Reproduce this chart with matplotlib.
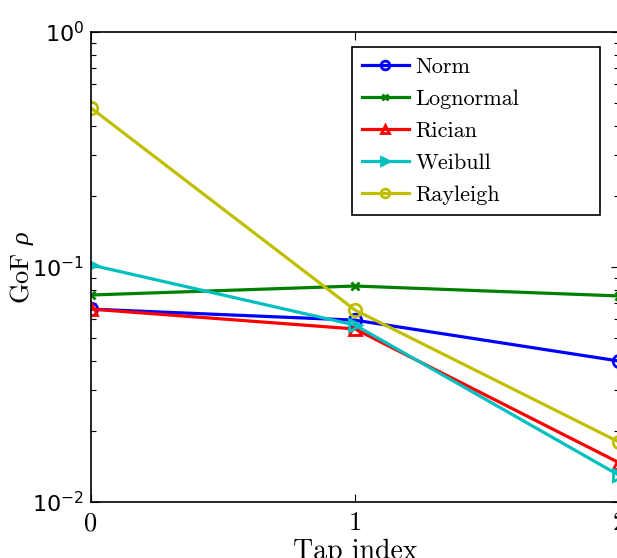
import matplotlib
matplotlib.use("Agg")
import matplotlib.pyplot as plt
from matplotlib.ticker import FixedLocator, LogLocator, NullFormatter

plt.rcParams['mathtext.fontset'] = 'custom'
plt.rcParams['mathtext.rm'] = 'Liberation Sans'
plt.rcParams['mathtext.it'] = 'Liberation Serif:italic'
plt.rcParams['mathtext.bf'] = 'Liberation Sans:bold'

# data
taps = [0, 1, 2]
norm = [0.0662, 0.0594, 0.0398]
lognormal = [0.0760, 0.0830, 0.0753]
rician = [0.0662, 0.0545, 0.0147]
weibull = [0.1020, 0.0566, 0.0130]
rayleigh = [0.4750, 0.0656, 0.0180]

series = [
    ("Norm", norm, "#0000ff", "o"),
    ("Lognormal", lognormal, "#008000", "x"),
    ("Rician", rician, "#ff0000", "^"),
    ("Weibull", weibull, "#00bfbf", ">"),
    ("Rayleigh", rayleigh, "#bfbf00", "o"),
]

ytick_vals = [1e-2, 1e-1, 1e0]
ytick_labels = [r"$\mathregular{10^{-2}}$", r"$\mathregular{10^{-1}}$", r"$\mathregular{10^{0}}$"]

fig = plt.figure(figsize=(6.17, 5.58), dpi=100)
ax = fig.add_axes([91 / 617, 1 - 502 / 558, 528 / 617, 470 / 558])

for name, vals, col, mk in series:
    ms = 6 if mk == "x" else 9
    ax.plot(taps, vals, color=col, marker=mk, lw=2.3, ms=ms,
            mfc="none", mew=2.0, label=name)

ax.set_yscale("log")
ax.set_xlim(0, 2)
ax.set_ylim(1e-2, 1e0)
ax.xaxis.set_major_locator(FixedLocator(taps))
ax.set_yticks(ytick_vals)
ax.set_yticklabels(ytick_labels, fontsize=16)
ax.yaxis.set_minor_locator(LogLocator(base=10, subs=range(2, 10)))
ax.yaxis.set_minor_formatter(NullFormatter())
ax.set_xticklabels([str(t) for t in taps], family="cmr10", fontsize=19)
ax.tick_params(which="both", direction="in", top=True, right=True)
ax.tick_params(which="major", length=6, width=0.8)
ax.tick_params(which="minor", length=3.5, width=0.8)
ax.tick_params(axis="x", pad=7)
ax.tick_params(axis="y", pad=5)
for s in ax.spines.values():
    s.set_linewidth(1.2)

ax.set_xlabel("Tap index", family="cmr10", fontsize=20, labelpad=2)
ax.set_ylabel(r"GoF $\rho$", family="cmr10", fontsize=19)
ax.yaxis.set_label_coords((36 - 91) / 528, 0.5)

# legend box spans x 352..600, y 47..212 px in the reference
x0 = (352 - 91) / 528
x1 = (600 - 91) / 528
y1 = (502 - 47) / 470
y0 = (502 - 212) / 470
leg = ax.legend(loc="upper left", bbox_to_anchor=(x0, y0, x1 - x0, y1 - y0),
                mode="expand", borderaxespad=0,
                prop={"family": "cmr10", "size": 16},
                fancybox=False, edgecolor="black", framealpha=1,
                borderpad=0.45, labelspacing=0.56, handlelength=2.1,
                handletextpad=0.3, markerscale=0.7)
leg.get_frame().set_linewidth(1.2)

fig.savefig("out.png", dpi=100)
